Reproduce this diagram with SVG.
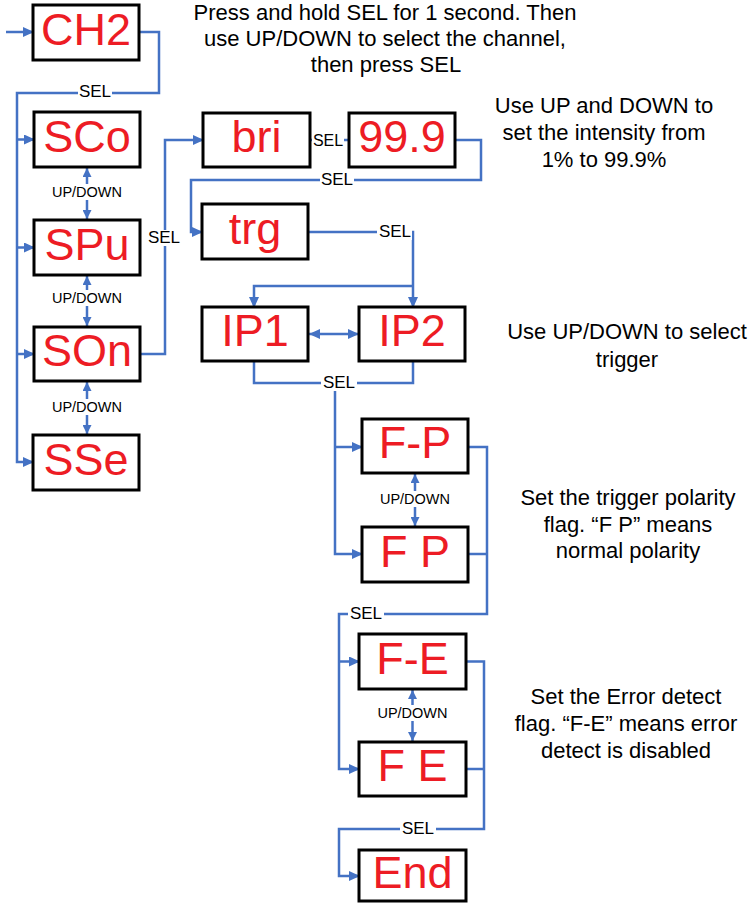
<svg xmlns="http://www.w3.org/2000/svg" width="751" height="903" viewBox="0 0 751 903">
<style>
.box{fill:#fff;stroke:#000;stroke-width:3}
.nt{font-family:"Liberation Sans",Arial,sans-serif;font-size:45px;fill:#ED1C24;text-anchor:middle}
.ln{fill:none;stroke:#4472C4;stroke-width:2.5}
.sel{font-family:"Liberation Sans",Arial,sans-serif;font-size:17px;fill:#000;text-anchor:middle}
.ud{font-family:"Liberation Sans",Arial,sans-serif;font-size:14.5px;fill:#000;text-anchor:middle}
.bg{fill:#fff}
.note{font-family:"Liberation Sans",Arial,sans-serif;font-size:22px;fill:#000;text-anchor:middle}
</style>
<defs>
<marker id="ah" markerUnits="userSpaceOnUse" markerWidth="11" markerHeight="10" refX="10" refY="5" orient="auto">
<path d="M0,0 L11,5 L0,10 z" fill="#4472C4"/>
</marker>
<marker id="as" markerUnits="userSpaceOnUse" markerWidth="9" markerHeight="9" refX="9" refY="4.5" orient="auto">
<path d="M0,0 L9,4.5 L0,9 z" fill="#4472C4"/>
</marker>
<marker id="ass" markerUnits="userSpaceOnUse" markerWidth="9" markerHeight="9" refX="0" refY="4.5" orient="auto">
<path d="M9,0 L0,4.5 L9,9 z" fill="#4472C4"/>
</marker>
<marker id="ahs" markerUnits="userSpaceOnUse" markerWidth="11" markerHeight="10" refX="0" refY="5" orient="auto">
<path d="M11,0 L0,5 L11,10 z" fill="#4472C4"/>
</marker>
</defs>

<g id="connectors">
<path class="ln" d="M6 32 H33" marker-end="url(#ah)"/>
<path class="ln" d="M139 32 H159 V93 H17 V462 H33" marker-end="url(#ah)"/>
<path class="ln" d="M17 139.5 H34" marker-end="url(#ah)"/>
<path class="ln" d="M17 247.5 H34" marker-end="url(#ah)"/>
<path class="ln" d="M17 354 H34" marker-end="url(#ah)"/>
<rect class="bg" x="78" y="85" width="34" height="16"/>
<text class="sel" x="95" y="97">SEL</text>

<path class="ln" d="M87 168 V219" marker-start="url(#ass)" marker-end="url(#as)"/>
<rect class="bg" x="49" y="184" width="76" height="16"/>
<text class="ud" x="87" y="197">UP/DOWN</text>
<path class="ln" d="M87 276 V326" marker-start="url(#ass)" marker-end="url(#as)"/>
<rect class="bg" x="49" y="290" width="76" height="16"/>
<text class="ud" x="87" y="303">UP/DOWN</text>
<path class="ln" d="M87 382 V434" marker-start="url(#ass)" marker-end="url(#as)"/>
<rect class="bg" x="49" y="399" width="76" height="16"/>
<text class="ud" x="87" y="412">UP/DOWN</text>

<path class="ln" d="M140 354 H165 V140 H203" marker-end="url(#ah)"/>
<rect class="bg" x="147" y="230" width="34" height="16"/>
<text class="sel" x="164" y="243">SEL</text>

<path class="ln" d="M310 140 H349"/>
<rect class="bg" x="312" y="132" width="32" height="16"/>
<text class="sel" x="328" y="146" style="font-size:16px">SEL</text>

<path class="ln" d="M455 140 H481 V180 H191 V232 H202" marker-end="url(#ah)"/>
<rect class="bg" x="320" y="172" width="34" height="16"/>
<text class="sel" x="337" y="185">SEL</text>

<path class="ln" d="M308 232 H413 V307" marker-end="url(#ah)"/>
<path class="ln" d="M413 286 H254 V307" marker-end="url(#ah)"/>
<rect class="bg" x="377" y="223" width="35" height="17"/>
<text class="sel" x="395" y="237">SEL</text>

<path class="ln" d="M309 334 H358" marker-start="url(#ahs)" marker-end="url(#ah)"/>

<path class="ln" d="M254 361 V383 H413 V361"/>
<path class="ln" d="M335 383 V554 H362" marker-end="url(#ah)"/>
<path class="ln" d="M335 447 H362" marker-end="url(#ah)"/>
<rect class="bg" x="321" y="375" width="36" height="16"/>
<text class="sel" x="339" y="388">SEL</text>

<path class="ln" d="M415 474 V526" marker-start="url(#ass)" marker-end="url(#as)"/>
<rect class="bg" x="377" y="491" width="76" height="16"/>
<text class="ud" x="415" y="504">UP/DOWN</text>

<path class="ln" d="M468 447 H487 V614 H339 V769 H359" marker-end="url(#ah)"/>
<path class="ln" d="M468 554 H487"/>
<path class="ln" d="M339 661.5 H359" marker-end="url(#ah)"/>
<rect class="bg" x="348" y="606" width="36" height="16"/>
<text class="sel" x="366" y="619">SEL</text>

<path class="ln" d="M412.5 690 V741" marker-start="url(#ass)" marker-end="url(#as)"/>
<rect class="bg" x="374" y="705" width="76" height="16"/>
<text class="ud" x="412.5" y="718">UP/DOWN</text>

<path class="ln" d="M466 661.5 H484 V829 H339 V876 H359" marker-end="url(#ah)"/>
<path class="ln" d="M466 769 H484"/>
<rect class="bg" x="400" y="821" width="36" height="16"/>
<text class="sel" x="418" y="834">SEL</text>
</g>

<g id="n-ch2"><rect class="box" x="33" y="5" width="106" height="55"/><text class="nt" x="86" y="45">CH2</text></g>
<g id="n-sco"><rect class="box" x="34" y="112" width="106" height="55"/><text class="nt" x="87" y="151.5">SCo</text></g>
<g id="n-spu"><rect class="box" x="34" y="220" width="106" height="55"/><text class="nt" x="87" y="259.5">SPu</text></g>
<g id="n-son"><rect class="box" x="34" y="327" width="106" height="54"/><text class="nt" x="87" y="366">SOn</text></g>
<g id="n-sse"><rect class="box" x="33" y="435" width="106" height="55"/><text class="nt" x="86" y="474.5">SSe</text></g>
<g id="n-bri"><rect class="box" x="203" y="113" width="107" height="54"/><text class="nt" x="256.5" y="152">bri</text></g>
<g id="n-999"><rect class="box" x="349" y="113" width="106" height="54"/><text class="nt" x="402" y="152">99.9</text></g>
<g id="n-trg"><rect class="box" x="202" y="204" width="106" height="55"/><text class="nt" x="255" y="243.5">trg</text></g>
<g id="n-ip1"><rect class="box" x="202" y="307" width="106" height="54"/><text class="nt" x="255" y="346">IP1</text></g>
<g id="n-ip2"><rect class="box" x="359" y="307" width="106" height="54"/><text class="nt" x="412" y="346">IP2</text></g>
<g id="n-fp1"><rect class="box" x="362" y="419" width="106" height="54"/><text class="nt" x="415" y="458">F-P</text></g>
<g id="n-fp2"><rect class="box" x="362" y="527" width="106" height="55"/><text class="nt" x="415" y="566.5" xml:space="preserve">F P</text></g>
<g id="n-fe1"><rect class="box" x="359" y="634" width="107" height="55"/><text class="nt" x="412.5" y="673.5">F-E</text></g>
<g id="n-fe2"><rect class="box" x="359" y="742" width="107" height="54"/><text class="nt" x="412.5" y="781" xml:space="preserve">F E</text></g>
<g id="n-end"><rect class="box" x="359" y="850" width="107" height="51"/><text class="nt" x="412.5" y="888">End</text></g>

<g id="notes">
<text class="note" x="385" y="19.5">Press and hold SEL for 1 second. Then</text>
<text class="note" x="385" y="45.5">use UP/DOWN to select the channel,</text>
<text class="note" x="386" y="71.5">then press SEL</text>
<text class="note" x="604" y="113">Use UP and DOWN to</text>
<text class="note" x="604" y="140">set the intensity from</text>
<text class="note" x="604" y="167">1% to 99.9%</text>
<text class="note" x="627" y="339">Use UP/DOWN to select</text>
<text class="note" x="627" y="367">trigger</text>
<text class="note" x="628" y="505">Set the trigger polarity</text>
<text class="note" x="628" y="532">flag. “F P” means</text>
<text class="note" x="628" y="558">normal polarity</text>
<text class="note" x="626" y="704">Set the Error detect</text>
<text class="note" x="626" y="731">flag. “F-E” means error</text>
<text class="note" x="626" y="758">detect is disabled</text>
</g>
</svg>
